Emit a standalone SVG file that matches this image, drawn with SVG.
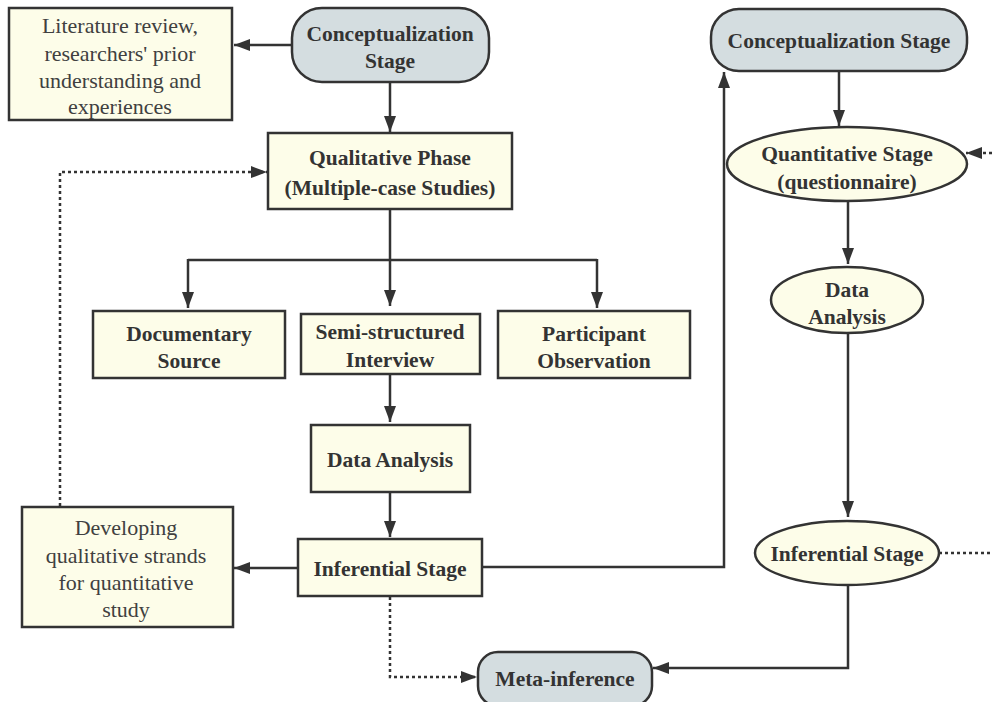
<svg xmlns="http://www.w3.org/2000/svg" width="992" height="702" viewBox="0 0 992 702">
  <defs>
    <marker id="arrow" viewBox="0 0 16 12" refX="16" refY="6" markerWidth="16" markerHeight="12" markerUnits="userSpaceOnUse" orient="auto">
      <path d="M0,0 L16,6 L0,12 Z" fill="#333"/>
    </marker>
    <style>
      .box { fill: #fdfde9; stroke: #333; stroke-width: 2.5; }
      .grey { fill: #d4dde0; stroke: #333; stroke-width: 2.5; }
      .t { font-family: "Liberation Serif", "Times New Roman", serif; font-size: 21.5px; fill: #333; text-anchor: middle; }
      .r { font-size: 22px; fill: #404040; }
      .b { font-weight: bold; }
      .line { fill: none; stroke: #333; stroke-width: 2.5; }
      .dot { fill: none; stroke: #333; stroke-width: 2.5; stroke-dasharray: 3 3; }
    </style>
  </defs>
  <rect width="992" height="702" fill="#ffffff"/>

  <!-- connectors: solid flow arrows and dotted feedback links -->
  <g id="connectors">
    <line class="line" x1="292" y1="45" x2="234" y2="45" marker-end="url(#arrow)"/>
    <line class="line" x1="390" y1="82" x2="390" y2="132" marker-end="url(#arrow)"/>
    <polyline class="line" points="390,209 390,260"/>
    <polyline class="line" points="188,260 597,260"/>
    <line class="line" x1="188" y1="259" x2="188" y2="308" marker-end="url(#arrow)"/>
    <line class="line" x1="390" y1="259" x2="390" y2="306" marker-end="url(#arrow)"/>
    <line class="line" x1="597" y1="259" x2="597" y2="308" marker-end="url(#arrow)"/>
    <line class="line" x1="390" y1="374" x2="390" y2="422" marker-end="url(#arrow)"/>
    <line class="line" x1="390" y1="492" x2="390" y2="537" marker-end="url(#arrow)"/>
    <line class="line" x1="298" y1="568" x2="234" y2="568" marker-end="url(#arrow)"/>
    <polyline class="dot" points="60,506 60,172 267,172" marker-end="url(#arrow)"/>
    <polyline class="dot" points="390,597 390,677 477,677" marker-end="url(#arrow)"/>
    <polyline class="line" points="482,567 724,567 724,72" marker-end="url(#arrow)"/>
    <line class="line" x1="839" y1="71" x2="839" y2="126" marker-end="url(#arrow)"/>
    <line class="dot" x1="992" y1="153" x2="966" y2="153" marker-end="url(#arrow)"/>
    <line class="line" x1="848" y1="201" x2="848" y2="264" marker-end="url(#arrow)"/>
    <line class="line" x1="848" y1="333" x2="848" y2="517" marker-end="url(#arrow)"/>
    <line class="dot" x1="939" y1="553" x2="992" y2="553"/>
    <polyline class="line" points="848,585 848,668 653,668" marker-end="url(#arrow)"/>
  </g>

  <g id="literature">
    <rect class="box" x="9" y="8" width="223" height="112"/>
    <text class="t r" x="120" y="33">Literature review,</text>
    <text class="t r" x="120" y="61">researchers' prior</text>
    <text class="t r" x="120" y="88">understanding and</text>
    <text class="t r" x="120" y="114">experiences</text>
  </g>

  <g id="concept-left">
    <rect class="grey" x="292" y="8" width="197" height="74" rx="30"/>
    <text class="t b" x="390" y="41">Conceptualization</text>
    <text class="t b" x="390" y="68">Stage</text>
  </g>

  <g id="qualitative">
    <rect class="box" x="268" y="133" width="244" height="76"/>
    <text class="t b" x="390" y="165">Qualitative Phase</text>
    <text class="t b" x="390" y="195">(Multiple-case Studies)</text>
  </g>

  <g id="documentary">
    <rect class="box" x="93" y="311" width="192" height="67"/>
    <text class="t b" x="189" y="341">Documentary</text>
    <text class="t b" x="189" y="368">Source</text>
  </g>

  <g id="interview">
    <rect class="box" x="301" y="314" width="179" height="60"/>
    <text class="t b" x="390" y="339">Semi-structured</text>
    <text class="t b" x="390" y="367">Interview</text>
  </g>

  <g id="observation">
    <rect class="box" x="498" y="311" width="192" height="67"/>
    <text class="t b" x="594" y="341">Participant</text>
    <text class="t b" x="594" y="368">Observation</text>
  </g>

  <g id="data-analysis-left">
    <rect class="box" x="311" y="425" width="159" height="67"/>
    <text class="t b" x="390" y="467">Data Analysis</text>
  </g>

  <g id="inferential-left">
    <rect class="box" x="298" y="539" width="184" height="57"/>
    <text class="t b" x="390" y="576">Inferential Stage</text>
  </g>

  <g id="developing">
    <rect class="box" x="22" y="507" width="211" height="120"/>
    <text class="t r" x="126" y="535">Developing</text>
    <text class="t r" x="126" y="563">qualitative strands</text>
    <text class="t r" x="126" y="590">for quantitative</text>
    <text class="t r" x="126" y="617">study</text>
  </g>

  <g id="meta-inference">
    <rect class="grey" x="478" y="652" width="174" height="54" rx="20"/>
    <text class="t b" x="565" y="686">Meta-inference</text>
  </g>

  <g id="concept-right">
    <rect class="grey" x="711" y="9" width="256" height="62" rx="28"/>
    <text class="t b" x="839" y="48">Conceptualization Stage</text>
  </g>

  <g id="quantitative">
    <ellipse class="box" cx="847" cy="164" rx="120" ry="37"/>
    <text class="t b" x="847" y="161">Quantitative Stage</text>
    <text class="t b" x="847" y="189">(questionnaire)</text>
  </g>

  <g id="data-analysis-right">
    <ellipse class="box" cx="847" cy="300" rx="76" ry="33"/>
    <text class="t b" x="847" y="297">Data</text>
    <text class="t b" x="847" y="324">Analysis</text>
  </g>

  <g id="inferential-right">
    <ellipse class="box" cx="847" cy="553" rx="92" ry="32"/>
    <text class="t b" x="847" y="561">Inferential Stage</text>
  </g>
</svg>
